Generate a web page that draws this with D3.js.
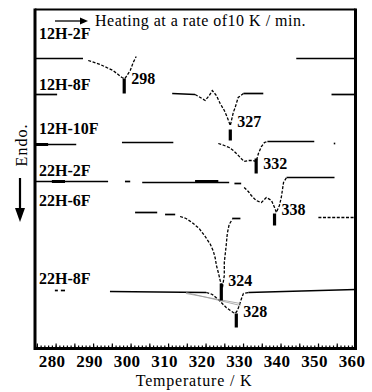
<!doctype html>
<html>
  <head>
    <script src="https://cdn.jsdelivr.net/npm/d3@7/dist/d3.min.js"></script>
    <style>
    body { margin: 0; background: #fff; }
    svg { font-family: "Liberation Serif", "DejaVu Serif", serif; }
    .trace { fill: none; stroke: #000; }
    .name { font-weight: bold; font-size: 16px; }
    .peak { font-weight: bold; font-size: 16px; }
    </style>
  </head>
  <body>
    <svg width="372" height="392"></svg>
    <script>
      // temperature axis
      var tempDomain = [274.5, 360];
      var tickTemps = [280, 290, 300, 310, 320, 330, 340, 350, 360];

      // sample names and the level where each name sits (a.u.)
      var samples = ["12H-2F", "12H-8F", "12H-10F", "22H-2F", "22H-6F", "22H-8F"];
      var nameLevels = [310, 259, 215, 173, 143, 65];

      // DSC traces: [temperature K, signal a.u.], split in runs
      var trace12H2F = [
        {kind: "solid", pts: [[274.5, 290], [287.3, 290]]},
        {kind: "dash", pts: [[288.7, 288], [291.9, 284], [295.3, 278], [297.7, 271], [298.5, 270], [299.9, 278], [300.7, 286], [301.5, 292]]},
        {kind: "solid", pts: [[344.2, 290], [360, 290]]}
      ];
      var trace12H8F = [
        {kind: "solid", pts: [[274.5, 254], [280.4, 254]]},
        {kind: "solid", pts: [[311.1, 255], [317.2, 254]]},
        {kind: "dash", pts: [[317.2, 254], [318.6, 251], [319.9, 248], [321.0, 253], [321.8, 258], [322.9, 253], [323.9, 245], [325.0, 238], [325.8, 231], [326.6, 223], [327.4, 236], [327.9, 241], [328.7, 251], [330.1, 255]]},
        {kind: "solid", pts: [[330.1, 255], [335.4, 255]]},
        {kind: "solid", pts: [[353.6, 254], [360, 254]]}
      ];
      var trace12H10F = [
        {kind: "solid", pts: [[274.5, 204], [285.5, 204]]},
        {kind: "heavy", pts: [[274.5, 204], [278.0, 204]]},
        {kind: "solid", pts: [[297.7, 206], [311.4, 206]]},
        {kind: "dash", pts: [[323.4, 205], [325.0, 203], [326.3, 201], [327.4, 198], [328.5, 194], [329.5, 190], [330.3, 187], [331.4, 188], [332.5, 188], [333.5, 187], [334.1, 195], [334.9, 202], [335.7, 206], [336.5, 207]]},
        {kind: "solid", pts: [[336.5, 207], [349.0, 207]]},
        {kind: "solid", pts: [[354.2, 205], [354.6, 205]]}
      ];
      var trace22H2F = [
        {kind: "solid", pts: [[274.5, 167], [294.0, 167]]},
        {kind: "heavy", pts: [[279.0, 167], [282.5, 167]]},
        {kind: "solid", pts: [[298.5, 167], [299.9, 167]]},
        {kind: "solid", pts: [[303.1, 166], [326.3, 166]]},
        {kind: "heavy", pts: [[317.2, 167], [323.4, 167]]},
        {kind: "solid", pts: [[327.7, 165], [329.5, 165]]},
        {kind: "dash", pts: [[330.3, 161], [331.4, 157], [332.2, 153], [333.5, 148], [334.9, 146], [336.2, 151], [337.6, 148], [338.4, 141], [338.9, 136], [339.7, 143], [340.2, 151], [340.8, 166], [341.6, 171]]},
        {kind: "solid", pts: [[341.6, 171], [354.4, 171]]}
      ];
      var trace22H6F = [
        {kind: "solid", pts: [[301.2, 136], [307.1, 136]]},
        {kind: "solid", pts: [[309.2, 134], [311.9, 134]]},
        {kind: "dash", pts: [[313.2, 132], [314.8, 130], [316.4, 126], [318.3, 120], [319.9, 112], [321.3, 104], [322.1, 97], [322.6, 90], [322.9, 83], [323.4, 76], [323.9, 68], [324.5, 61], [325.0, 73], [325.0, 86], [325.5, 103], [325.8, 115], [326.3, 124], [327.1, 129]]},
        {kind: "solid", pts: [[327.1, 130], [329.3, 130]]},
        {kind: "dash", pts: [[350.1, 131], [360, 131]]}
      ];
      var trace22H8F = [
        {kind: "solid", pts: [[279.8, 58], [280.6, 58]]},
        {kind: "solid", pts: [[281.4, 58], [282.5, 58]]},
        {kind: "solid", pts: [[294.5, 57], [320.2, 56]]},
        {kind: "dash", pts: [[320.2, 56], [321.8, 54], [323.7, 48], [324.7, 44], [325.5, 41], [326.6, 38], [327.4, 36], [327.9, 35], [328.5, 38], [329.0, 43], [329.5, 49], [330.1, 55], [331.4, 56]]},
        {kind: "solid", pts: [[331.4, 56], [360, 59]]},
        {kind: "grey", pts: [[314.8, 56], [329.3, 43]]},
        {kind: "grey", pts: [[314.8, 55], [329.3, 45]]}
      ];
      var traces = [trace12H2F, trace12H8F, trace12H10F, trace22H2F, trace22H6F, trace22H8F];

      // peak markers
      var peakLabels = ["298", "327", "332", "338", "324", "328"];
      var peakTemps = [298.3, 326.6, 333.5, 338.4, 324.2, 328.2];
      var peakTop = [270, 219, 190, 135, 65, 35];
      var peakBottom = [255, 208, 175, 123, 48, 21];
      var peakLabelLevels = [265, 222, 180, 134, 63, 32];

      var svg = d3.select("svg");
      var frameL = 35, frameR = 355.5, frameT = 9.5, frameB = 348.5;

      var x = d3.scaleLinear().domain(tempDomain).range([frameL, frameR]);
      var y = d3.scaleLinear().domain([0, 339]).range([frameB, frameT]);

      var line = d3.line().x(d => x(d[0])).y(d => y(d[1]));

      // traces
      traces.forEach(tr => {
        tr.forEach(run => {
          var p = svg.append("path")
            .attr("class", "trace")
            .attr("d", line(run.pts));
          if (run.kind === "solid") p.attr("stroke-width", 1.7);
          if (run.kind === "heavy") p.attr("stroke-width", 3);
          if (run.kind === "dash") p.attr("stroke-width", 1.3).attr("stroke-dasharray", "3,1.6");
          if (run.kind === "grey") p.attr("stroke-width", 0.8).style("stroke", "#999");
        });
      });

      // sample names
      svg.selectAll("text.name")
        .data(samples)
        .enter()
        .append("text")
          .attr("class", "name")
          .attr("x", frameL + 4)
          .attr("y", (d, i) => y(nameLevels[i]))
          .text(d => d);

      // peak bars + labels
      svg.selectAll("line.bar")
        .data(peakLabels)
        .enter()
        .append("line")
          .attr("class", "bar")
          .attr("x1", (d, i) => x(peakTemps[i]))
          .attr("x2", (d, i) => x(peakTemps[i]))
          .attr("y1", (d, i) => y(peakTop[i]))
          .attr("y2", (d, i) => y(peakBottom[i]))
          .attr("stroke", "#000")
          .attr("stroke-width", 3.2);
      svg.selectAll("text.peak")
        .data(peakLabels)
        .enter()
        .append("text")
          .attr("class", "peak")
          .attr("x", (d, i) => x(peakTemps[i]) + 7)
          .attr("y", (d, i) => y(peakLabelLevels[i]))
          .text(d => d);

      // minor ticks inside the bottom frame
      svg.append("g")
        .attr("transform", `translate(0,${frameB})`)
        .call(d3.axisBottom(x).tickValues(d3.range(275, 361, 1)).tickSize(-3).tickFormat(""))
        .call(g => g.select(".domain").remove())
        .call(g => g.selectAll("line").attr("stroke-width", 1.2));
      svg.append("g")
        .attr("transform", `translate(0,${frameB})`)
        .call(d3.axisBottom(x).tickValues(d3.range(275, 361, 5)).tickSize(-5).tickFormat(""))
        .call(g => g.select(".domain").remove())
        .call(g => g.selectAll("line").attr("stroke-width", 1.2));

      // major labels
      var axis = svg.append("g")
        .attr("transform", `translate(0,${frameB})`)
        .call(d3.axisBottom(x).tickValues(tickTemps).tickSize(0));
      axis.select(".domain").remove();
      axis.selectAll("text")
        .attr("y", 18.5)
        .attr("dy", null)
        .attr("dx", -4)
        .attr("fill", "#000")
        .style("font-family", "Liberation Serif, serif")
        .style("font-weight", "bold")
        .style("font-size", "17px")
        .style("letter-spacing", "0.4px");

      // frame
      svg.append("line").attr("x1", frameL).attr("x2", frameR).attr("y1", frameT).attr("y2", frameT)
        .attr("stroke", "#000").attr("stroke-width", 2);
      svg.append("line").attr("x1", frameL).attr("x2", frameR).attr("y1", frameB).attr("y2", frameB)
        .attr("stroke", "#000").attr("stroke-width", 3);
      svg.append("line").attr("x1", frameL).attr("x2", frameL).attr("y1", frameT - 1).attr("y2", frameB + 1.5)
        .attr("stroke", "#000").attr("stroke-width", 3);
      svg.append("line").attr("x1", frameR).attr("x2", frameR).attr("y1", frameT - 1).attr("y2", frameB + 1.5)
        .attr("stroke", "#000").attr("stroke-width", 3);

      // heading with arrow
      svg.append("line").attr("x1", 55).attr("x2", 81).attr("y1", 21).attr("y2", 21)
        .attr("stroke", "#000").attr("stroke-width", 1.3);
      svg.append("path").attr("d", "M80,17.5L88,21L80,24.5Z").attr("fill", "#000");
      svg.append("text")
        .attr("x", 95).attr("y", 25.5)
        .style("font-size", "16px")
        .style("letter-spacing", "0.5px")
        .text("Heating at a rate of10 K / min.");

      // Endo. with down arrow
      svg.append("text")
        .attr("transform", "translate(27,145) rotate(-90)")
        .attr("text-anchor", "middle")
        .style("font-size", "16px")
        .style("letter-spacing", "1px")
        .text("Endo.");
      svg.append("line").attr("x1", 20).attr("x2", 20).attr("y1", 178).attr("y2", 210)
        .attr("stroke", "#000").attr("stroke-width", 2.2);
      svg.append("path").attr("d", "M15,208L25,208L20,222Z").attr("fill", "#000");

      // x title
      svg.append("text")
        .attr("x", 194).attr("y", 386)
        .attr("text-anchor", "middle")
        .style("font-size", "16px")
        .style("letter-spacing", "0.8px")
        .text("Temperature / K");
    </script>
  </body>
</html>
